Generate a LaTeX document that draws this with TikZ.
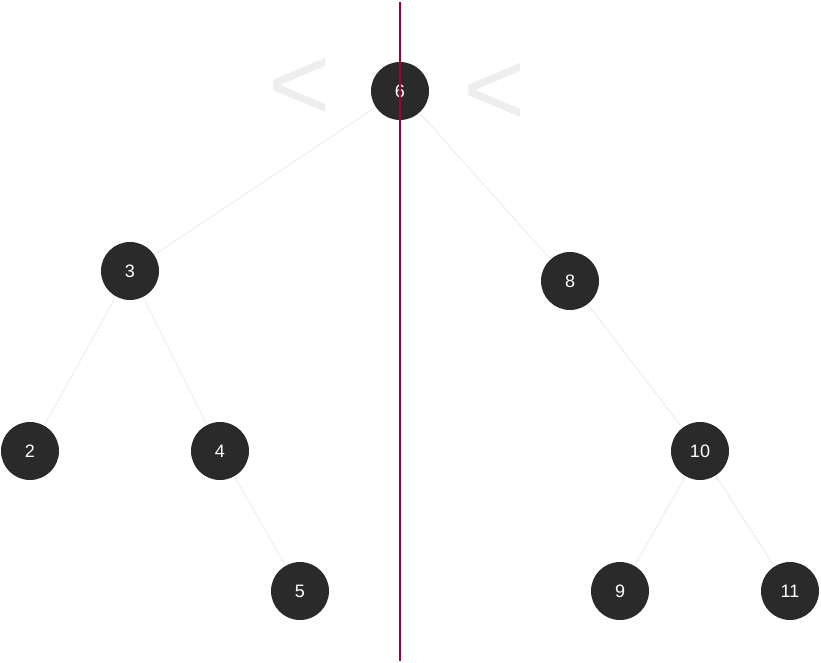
\documentclass[tikz,border=0pt]{standalone}
\usepackage{fontspec}
\setmainfont{Liberation Sans}
\usepackage{tikz}
\usetikzlibrary{positioning, calc}
\definecolor{nodedark}{RGB}{42, 42, 42}
\definecolor{edgegray}{RGB}{234, 234, 234}
\definecolor{splitred}{RGB}{160, 0, 60}
\definecolor{ltgray}{RGB}{238, 238, 238}
\tikzset{
  treenode/.style={circle, fill=nodedark, draw=none, minimum size=43.5pt, inner sep=0pt, text=white, font=\fontsize{13.5}{15}\selectfont},
  treeedge/.style={edgegray, line width=0.6pt},
  splitline/.style={splitred, line width=1.5pt},
  cmpsign/.style={text=ltgray, font=\fontsize{80}{90}\selectfont, inner sep=0pt},
}

\begin{document}
\begin{tikzpicture}[x=0.75pt, y=-0.75pt]
  \useasboundingbox (0,0) rectangle (821,663);
  % comparison signs
  \node[cmpsign] (lt1) at (300,89) {<};
  \node[cmpsign] (lt2) at (495,94) {<};
  % edges first, nodes on top
  \coordinate (c6) at (400,91);
  \coordinate (c3) at (130,271);
  \coordinate (c8) at (570,281);
  \coordinate (c2) at (30,451);
  \coordinate (c4) at (220,451);
  \coordinate (c10) at (700,451);
  \coordinate (c5) at (300,591);
  \coordinate (c9) at (620,591);
  \coordinate (c11) at (790,591);
  \node[treenode] (n6) at (c6) {6};
  \node[treenode] (n3) at (c3) {3};
  \node[treenode] (n8) at (c8) {8};
  \node[treenode] (n2) at (c2) {2};
  \node[treenode] (n4) at (c4) {4};
  \node[treenode] (n10) at (c10) {10};
  \node[treenode] (n5) at (c5) {5};
  \node[treenode] (n9) at (c9) {9};
  \node[treenode] (n11) at (c11) {11};
  \foreach \i/\j in {6/3,6/8,3/2,3/4,4/5,8/10,10/9,10/11} \draw[treeedge] (n\i)--(n\j);
  % split line
  \coordinate (top) at (400,2);
  \coordinate (bot) at (400,661);
  \draw[splitline] (top)--(bot);
\end{tikzpicture}
\end{document}
